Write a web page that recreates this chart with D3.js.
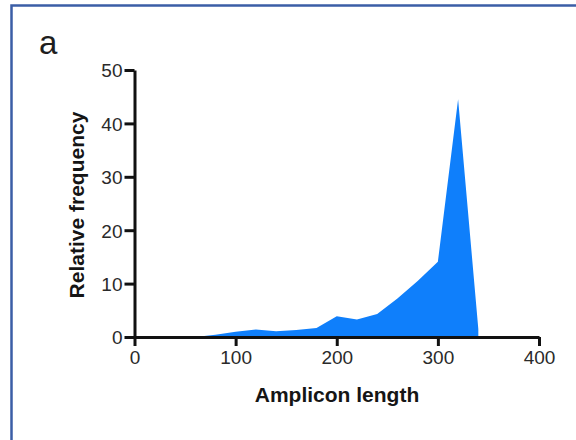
<!DOCTYPE html>
<html><head><meta charset="utf-8">
<script src="https://cdn.jsdelivr.net/npm/d3@7"></script>
<style>body{margin:0;background:#fff}svg{display:block}</style>
</head><body>
<script>
const lengths = [60,80,100,120,140,160,180,200,220,240,260,280,300,320,340];
const freq    = [0,0.4,1.0,1.4,1.1,1.3,1.7,3.9,3.3,4.3,7.2,10.5,14.1,44.5,1.5];
const xTicks = [0,100,200,300,400];
const yTicks = [0,10,20,30,40,50];
const panelLabel = "a";
const xTitle = "Amplicon length";
const yTitle = "Relative frequency";

const W = 576, H = 440;
const svg = d3.select("body").append("svg").attr("width", W).attr("height", H);
svg.append("rect").attr("width", W).attr("height", H).attr("fill", "#fff");

// frame
svg.append("path").attr("d", `M11.5,440 V5.5 H576`).attr("fill","none")
  .attr("stroke","#3b5ea6").attr("stroke-width",2.5);

const x = d3.scaleLinear().domain([0,400]).range([134.5,539]);
const y = d3.scaleLinear().domain([0,50]).range([337,70]);

const data = lengths.map((l,i)=>({l, v:freq[i]}));
const area = d3.area().x(d=>x(d.l)).y0(y(0)).y1(d=>y(d.v));
svg.append("path").datum(data).attr("d", area).attr("fill", "#0f7ffb");

const font = "'Liberation Sans', Arial, Helvetica, sans-serif";

const gx = svg.append("g").attr("transform", `translate(0,${y(0)})`)
  .call(d3.axisBottom(x).tickValues(xTicks).tickSize(9).tickSizeOuter(0).tickPadding(5));
const gy = svg.append("g").attr("transform", `translate(${x(0)},0)`)
  .call(d3.axisLeft(y).tickValues(yTicks).tickSize(10).tickSizeOuter(0).tickPadding(2));

[gx, gy].forEach(g => {
  g.select(".domain").attr("stroke","#111").attr("stroke-width",3);
  g.selectAll(".tick line").attr("stroke","#111").attr("stroke-width",3);
  g.selectAll(".tick text").attr("fill","#2a2a2a").style("font-family",font).style("font-size","19px");
});
gy.selectAll(".tick text").attr("dy","0.36em");

svg.append("text").text(panelLabel).attr("x",39).attr("y",54)
  .style("font-family",font).style("font-size","33px").attr("fill","#1e1e1e");

svg.append("text").text(xTitle).attr("x",337).attr("y",402).attr("text-anchor","middle")
  .style("font-family",font).style("font-size","21px").style("font-weight","bold").attr("fill","#151515");

svg.append("text").text(yTitle).attr("transform","translate(84,205) rotate(-90)").attr("text-anchor","middle")
  .style("font-family",font).style("font-size","21px").style("font-weight","bold").attr("fill","#151515");
</script>
</body></html>
